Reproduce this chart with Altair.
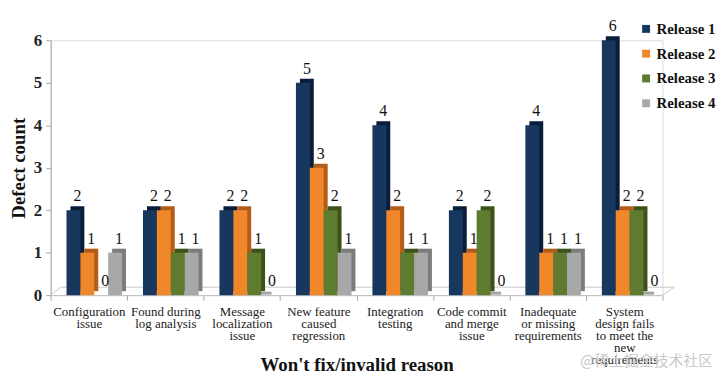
import altair as alt
import pandas as pd

categories = [
    "Configuration|issue",
    "Found during|log analysis",
    "Message|localization|issue",
    "New feature|caused|regression",
    "Integration|testing",
    "Code commit|and merge|issue",
    "Inadequate|or missing|requirements",
    "System|design fails|to meet the|new|requirements",
]
releases = ["Release 1", "Release 2", "Release 3", "Release 4"]
release1 = [2, 2, 2, 5, 4, 2, 4, 6]
release2 = [1, 2, 2, 3, 2, 1, 1, 2]
release3 = [0, 1, 1, 2, 1, 2, 1, 2]
release4 = [1, 1, 0, 1, 1, 0, 1, 0]
front_colors = ["#17375E", "#F0872A", "#5F7B2F", "#A8A8A8"]
side_colors = ["#0A1D3A", "#B35C17", "#3C5218", "#7C7C7C"]
watermark_text = ["@稀土掘金技术社区"]

rows = []
for r, vals in zip(releases, [release1, release2, release3, release4]):
    for c, v in zip(categories, vals):
        rows.append({"cat": c, "release": r, "value": v})
df = pd.DataFrame(rows)
one = pd.DataFrame({"t": watermark_text})

FONT = "Liberation Serif"

x_enc = alt.X(
    "cat:N", sort=categories,
    scale=alt.Scale(paddingInner=0, paddingOuter=0),
    axis=alt.Axis(
        title="Won't fix/invalid reason", titleFont=FONT, titleFontSize=19,
        titleFontWeight="bold", titleColor="#111",
        titleBaseline="alphabetic", titleY=76,
        labelAngle=0, labelFont=FONT, labelFontSize=13, labelColor="#222",
        labelExpr="split(datum.label, '|')", labelLineHeight=12,
        labelPadding=6, labelLimit=200,
        tickBand="extent", tickSize=5, tickColor="#A6A6A6",
        domainColor="#BFBFBF", grid=False,
    ),
)


def xoff(rng):
    return alt.XOffset("release:N", sort=releases,
                       scale=alt.Scale(type="band", range=rng,
                                       paddingInner=0, paddingOuter=0))


y_enc = alt.Y(
    "value:Q", scale=alt.Scale(domain=[0, 6]),
    axis=alt.Axis(
        title="Defect count", titleFont=FONT, titleFontSize=19,
        titleFontWeight="bold", titleColor="#111", titlePadding=5,
        labelFont=FONT, labelFontSize=17, labelFontWeight="bold", labelColor="#222",
        values=[0, 1, 2, 3, 4, 5, 6], tickSize=5, tickColor="#A6A6A6",
        domainColor="#A6A6A6", grid=False, labelPadding=4,
    ),
)

shadow = alt.Chart(df).mark_bar(yOffset=-4, y2Offset=4).encode(
    x=x_enc, xOffset=xoff([20, 76]), y=y_enc,
    color=alt.Color("release:N", sort=releases,
                    scale=alt.Scale(domain=releases, range=side_colors), legend=None)
)
zero_sliver = alt.Chart(df).transform_filter("datum.value == 0").mark_tick(
    orient="horizontal", thickness=3, size=15, yOffset=-2
).encode(
    x=x_enc, xOffset=xoff([19, 75]), y=y_enc,
    color=alt.Color("release:N", sort=releases,
                    scale=alt.Scale(domain=releases, range=side_colors), legend=None)
)
front = alt.Chart(df).mark_bar().encode(
    x=x_enc, xOffset=xoff([16, 72]), y=y_enc,
    color=alt.Color("release:N", sort=releases,
                    scale=alt.Scale(domain=releases, range=front_colors),
                    legend=alt.Legend(
                        title=None, orient="none", legendX=593, legendY=-19,
                        symbolType="square", symbolSize=64, symbolStrokeWidth=0,
                        labelFont=FONT, labelFontSize=15, labelFontWeight="bold",
                        labelColor="#111", rowPadding=9, symbolOffset=0, labelOffset=3,
                    ))
)
labels = alt.Chart(df).mark_text(font=FONT, fontSize=16, color="#111", dx=4, dy=-9,
                                 baseline="alphabetic").encode(
    x=x_enc, xOffset=xoff([16, 72]), y=y_enc, text="value:Q")

floor_back = alt.Chart(one).mark_rule(color="#C8C8C8", strokeWidth=1).encode(
    x=alt.value(10), x2=alt.value(629), y=alt.value(249))
floor_left = alt.Chart(one).mark_rule(color="#C8C8C8", strokeWidth=1).encode(
    x=alt.value(0), x2=alt.value(10), y=alt.value(257), y2=alt.value(249))
floor_right = alt.Chart(one).mark_rule(color="#C8C8C8", strokeWidth=1).encode(
    x=alt.value(617), x2=alt.value(629), y=alt.value(257), y2=alt.value(249))

watermark = alt.Chart(one).mark_text(
    font="Noto Sans CJK SC", fontSize=15,
    color="#C9C9C9", align="left", baseline="middle"
).encode(x=alt.value(534), y=alt.value(323), text="t:N")

chart = alt.layer(
    floor_back, floor_left, floor_right, shadow, zero_sliver, front, labels, watermark
).resolve_scale(color="independent", xOffset="independent").properties(
    width=617, height=257,
    autosize=alt.AutoSizeParams(type="none"),
    padding={"left": 43, "top": 31, "right": 55, "bottom": 80},
).configure_view(stroke=None).configure(background="white")

chart.save("out.html", embed_options={"renderer": "svg", "actions": False})
